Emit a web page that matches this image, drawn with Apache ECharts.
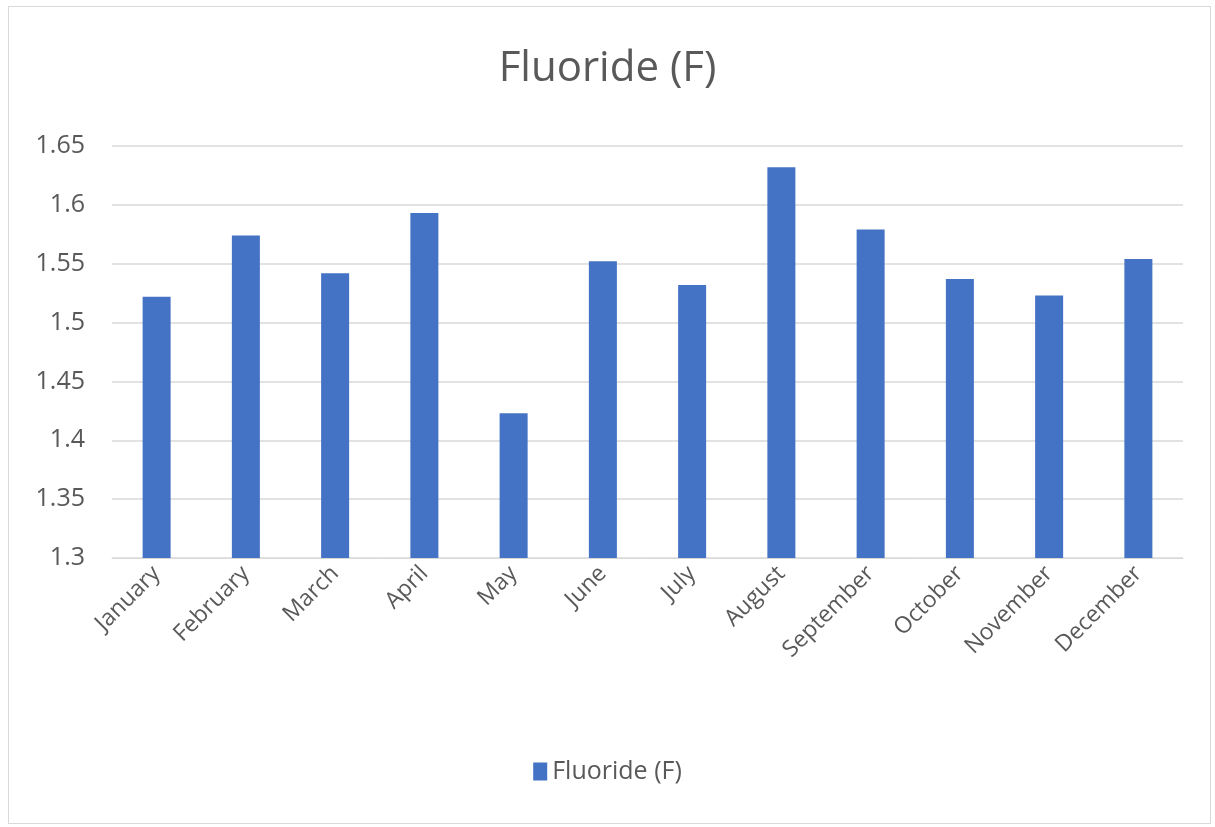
<!DOCTYPE html>
<html>
<head>
<meta charset="utf-8">
<script src="https://cdn.jsdelivr.net/npm/echarts@6/dist/echarts.min.js"></script>
<style>
html,body{margin:0;padding:0;background:#fff;}
#frame{position:absolute;left:8px;top:6px;width:1203px;height:818px;border:1px solid #d9d9d9;box-sizing:border-box;}
#chart{position:absolute;left:0;top:0;width:1215px;height:827px;}
</style>
</head>
<body>
<div id="frame"></div>
<div id="chart"></div>
<script>
const titleText = 'Fluoride (F)';
const seriesName = 'Fluoride (F)';
const months = ['January','February','March','April','May','June','July','August','September','October','November','December'];
const fluoride = [1.522, 1.574, 1.542, 1.593, 1.423, 1.552, 1.532, 1.632, 1.579, 1.537, 1.523, 1.554];
const yMin = 1.3, yMax = 1.65, yStep = 0.05;

const chart = echarts.init(document.getElementById('chart'));
const font = 'Open Sans, Liberation Sans, sans-serif';
chart.setOption({
  animation: false,
  title: {
    text: titleText, left: 'center', top: 43,
    textStyle: {color: '#595959', fontSize: 42, fontWeight: 'normal', fontFamily: font}
  },
  legend: {
    data: [seriesName], bottom: 38, left: 'center',
    itemWidth: 14, itemHeight: 18, icon: 'rect', itemGap: 10,
    textStyle: {color: '#595959', fontSize: 25, fontFamily: font}
  },
  grid: {left: 112, right: 32, top: 146, bottom: 269, containLabel: false},
  xAxis: {
    type: 'category', data: months,
    axisLine: {lineStyle: {color: '#d9d9d9'}},
    axisTick: {show: false},
    axisLabel: {color: '#595959', fontSize: 23, rotate: 45, fontFamily: font, interval: 0, margin: 12}
  },
  yAxis: {
    type: 'value', min: yMin, max: yMax, interval: yStep,
    axisLine: {show: false}, axisTick: {show: false},
    splitLine: {lineStyle: {color: '#d9d9d9', width: 1.5}},
    axisLabel: {color: '#595959', fontSize: 25, fontFamily: font, margin: 27,
      formatter: v => String(parseFloat(v.toFixed(2)))}
  },
  series: [{
    name: seriesName, type: 'bar', data: fluoride, barWidth: 28,
    itemStyle: {color: '#4472C4'}
  }]
});
</script>
</body>
</html>
